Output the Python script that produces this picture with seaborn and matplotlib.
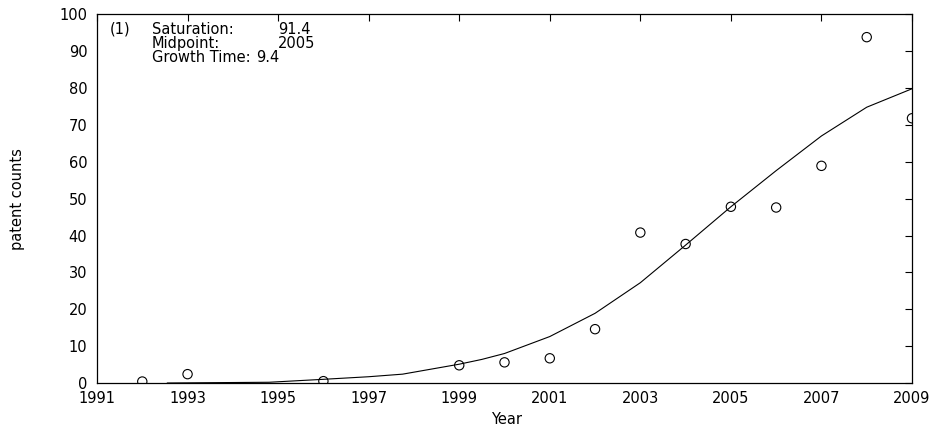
import matplotlib
matplotlib.use("Agg")
import matplotlib.pyplot as plt
import seaborn as sns
import pandas as pd

# observed patent counts
obs_years = [1992, 1993, 1996, 1999, 2000, 2001, 2002, 2003, 2004, 2005, 2006, 2007, 2008, 2009]
obs_counts = [0.4, 2.4, 0.5, 4.8, 5.6, 6.7, 14.6, 40.8, 37.7, 47.8, 47.6, 58.9, 93.8, 71.8]

# fitted logistic curve
fit_years = [1992.55, 1994.8, 1996, 1997, 1997.75, 1999, 1999.5, 2000, 2001, 2002,
             2003, 2004, 2005, 2006, 2007, 2008, 2009]
fit_values = [0.0, 0.2, 1.0, 1.7, 2.4, 5.1, 6.4, 8.0, 12.6, 18.9,
              27.2, 37.4, 47.8, 57.6, 67.0, 74.8, 79.8]

x_ticks = list(range(1991, 2010, 2))
y_ticks = list(range(0, 101, 10))

ann_labels = ["(1)", "Saturation:", "Midpoint:", "Growth Time:"]
ann_values = ["91.4", "2005", "9.4"]

sns.set_theme(style="white")
plt.rcParams['font.family'] = ['DejaVu Sans']
plt.rcParams['text.color'] = 'black'

obs = pd.DataFrame({"Year": obs_years, "count": obs_counts})
fit = pd.DataFrame({"Year": fit_years, "count": fit_values})

W, H = 939, 428
fig = plt.figure(figsize=(W / 100, H / 100), dpi=100)
ax = fig.add_axes([97 / W, 1 - 383 / H, (912 - 97) / W, (383 - 14.3) / H])

sns.lineplot(data=fit, x="Year", y="count", ax=ax, color="black", linewidth=0.8,
             sort=False)
sns.scatterplot(data=obs, x="Year", y="count", ax=ax, marker="o", s=45,
                facecolor="none", edgecolor="black", linewidth=0.8)

ax.set_xlim(1991, 2009)
ax.set_ylim(0, 100)
ax.set_xticks(x_ticks)
ax.set_yticks(y_ticks)
ax.tick_params(direction="in", length=5, width=0.8, top=True, right=True,
               labelsize=10.5, colors="black")
ax.tick_params(axis="x", labeltop=False, pad=6)
ax.tick_params(axis="y", labelright=False, pad=7)
for s in ax.spines.values():
    s.set_color("black")
    s.set_linewidth(0.9)
    s.set_visible(True)

ax.set_xlabel("")
ax.set_ylabel("")
fig.text(507 / W, 1 - 419 / H, "Year", fontsize=10.5, ha="center", va="center",
         color="black")
fig.text(18 / W, 1 - 199 / H, "patent counts", fontsize=10.5, ha="center",
         va="center", rotation=90, color="black")

fs = 10.5
rows = [1 - 29.5 / H, 1 - 43.5 / H, 1 - 57.5 / H]
kw = dict(fontsize=fs, va="center", ha="left", color="black")
fig.text(110 / W, rows[0], ann_labels[0], **kw)
fig.text(152 / W, rows[0], ann_labels[1], **kw)
fig.text(278 / W, rows[0], ann_values[0], **kw)
fig.text(152 / W, rows[1], ann_labels[2], **kw)
fig.text(278 / W, rows[1], ann_values[1], **kw)
fig.text(152 / W, rows[2], ann_labels[3], **kw)
fig.text(256 / W, rows[2], ann_values[2], **kw)

fig.savefig("out.png", dpi=100, facecolor="white")
